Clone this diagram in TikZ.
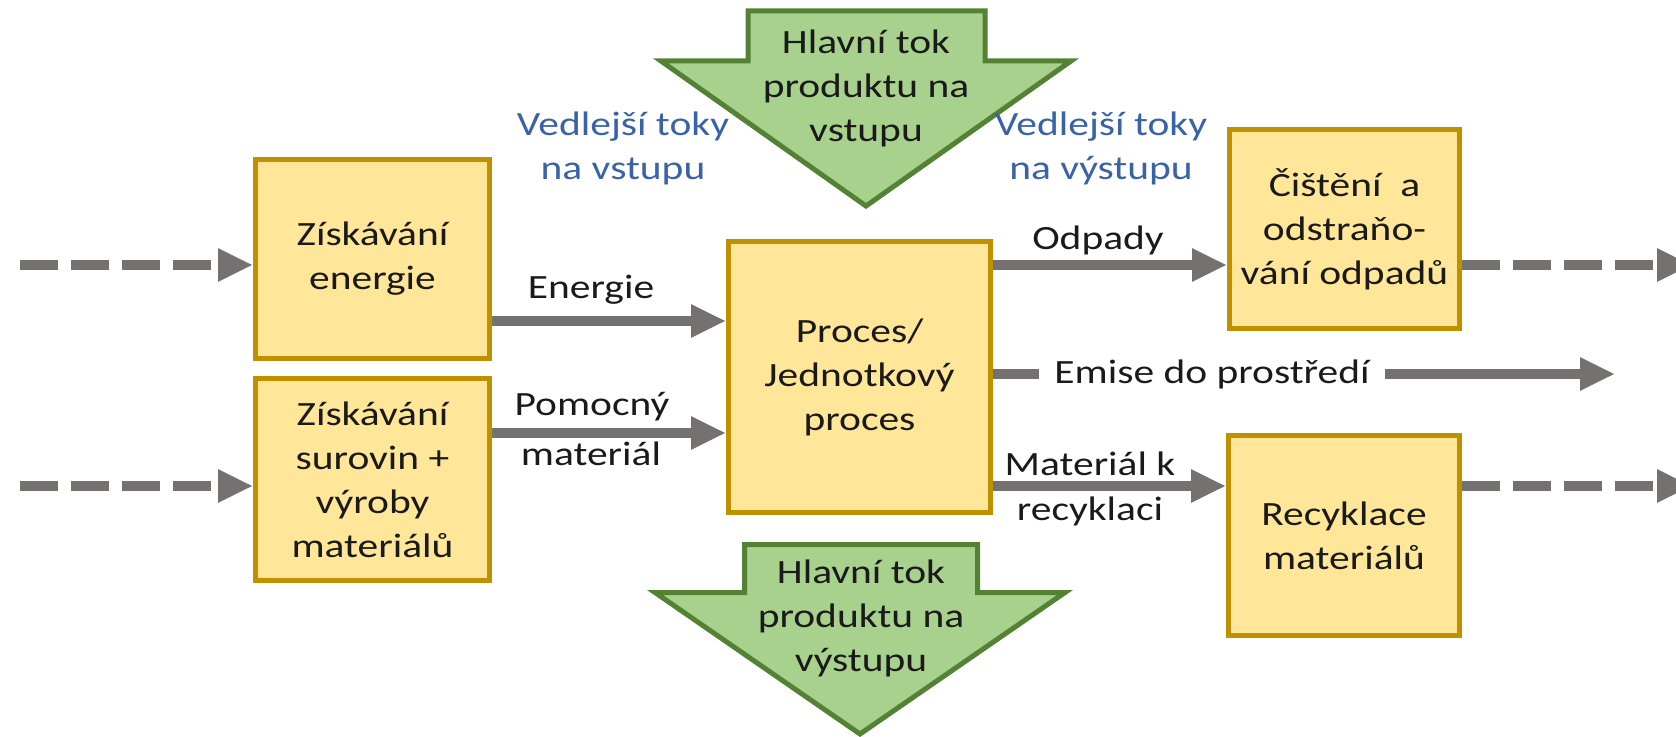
\documentclass[tikz,border=0pt]{standalone}
\usepackage{fontspec}
\setmainfont{Carlito}[FakeStretch=1.22]
\usetikzlibrary{arrows.meta}
\definecolor{boxfill}{HTML}{FFE699}
\definecolor{boxline}{HTML}{BF9000}
\definecolor{greenfill}{HTML}{A9D18E}
\definecolor{greenline}{HTML}{548235}
\definecolor{flowgrey}{HTML}{767171}
\definecolor{sideblue}{HTML}{3A62A7}
\definecolor{ink}{HTML}{1A1A1A}
\begin{document}
\begin{tikzpicture}[x=0.5pt,y=-0.5pt,
  font=\fontsize{17}{22}\selectfont, text=ink,
  stage/.style={draw=boxline, fill=boxfill, line width=2.5pt, align=center, inner sep=0pt},
  flow/.style={draw=flowgrey, line width=5pt, -{Triangle[length=17.5pt,width=15.5pt]}},
  flowline/.style={draw=flowgrey, line width=5pt},
  dashgap/.style={dash pattern=on 19pt off 6.5pt},
  mainflow/.style={draw=greenline, fill=greenfill, line width=2.5pt, line join=miter},
  lbl/.style={inner sep=0pt, align=center},
  side/.style={inner sep=0pt, align=center, text=sideblue}]
\path[use as bounding box, clip] (0,0) rectangle (1676,737);

% main product flows (input above, output below the process)
\draw[mainflow] (748,11) -- (985,11) -- (985,61) -- (1071,61) -- (866,206) -- (661,61) -- (748,61) -- cycle;
\node[lbl] (mainin) at (866,88) {Hlavní tok\\produktu na\\vstupu};
\draw[mainflow] (744.5,544.5) -- (977.5,544.5) -- (977.5,592.5) -- (1065,592.5) -- (860,734) -- (655,592.5) -- (744.5,592.5) -- cycle;
\node[lbl] (mainout) at (861,618) {Hlavní tok\\produktu na\\výstupu};

% side-flow headings
\node[side] (sidein) at (623,148) {Vedlejší toky\\na vstupu};
\node[side] (sideout) at (1101,148) {Vedlejší toky\\na výstupu};

% stages
\node[stage, minimum width=117pt, minimum height=99.5pt] (energy) at (372.5,259) {Získávání\\energie};
\node[stage, minimum width=117pt, minimum height=101pt] (raw) at (372.5,479.5) {Získávání\\surovin +\\výroby\\materiálů};
\node[stage, minimum width=131pt, minimum height=135.5pt] (proc) at (859.5,377) {Proces/\\Jednotkový\\proces};
\node[stage, minimum width=115pt, minimum height=99.5pt] (clean) at (1344.5,229) {Čištění~ a\\odstraňo-\\vání odpadů};
\node[stage, minimum width=115.5pt, minimum height=100pt] (recy) at (1344,535.5) {Recyklace\\materiálů};

% incoming upstream flows
\coordinate (upE) at (20,265);
\coordinate (upR) at (20,486);
\draw[flow, dashgap] (upE) -- (energy.west |- upE);
\draw[flow, dashgap] (upR) -- (raw.west |- upR);

% side inputs
\draw[flow] (energy.east |- 0,321) -- (proc.west |- 0,321);
\node[lbl] (lenergy) at (591,290) {Energie};
\draw[flow] (raw.east |- 0,433) -- (proc.west |- 0,433);
\node[lbl] (laux1) at (592,407) {Pomocný};
\node[lbl] (laux2) at (591,454) {materiál};

% side outputs
\draw[flow] (proc.east |- 0,265) -- (clean.west |- 0,265);
\node[lbl] (lwaste) at (1098,240) {Odpady};
\draw[flow] (proc.east |- 0,486) -- (recy.west |- 0,486);
\node[lbl] (lrec1) at (1090,464) {Materiál k};
\node[lbl] (lrec2) at (1090,511) {recyklaci};

% emissions
\node[inner sep=0pt, outer sep=0pt, minimum width=173pt] (emise) at (1212,374) {Emise do prostředí};
\coordinate (emiseEnd) at (1615,374);
\draw[flowline] (proc.east |- emise) -- (emise.west);
\draw[flow] (emise.east) -- (emiseEnd);

% downstream flows
\coordinate (downC) at (1692,265);
\coordinate (downR) at (1692,486);
\draw[flow, dashgap] (clean.east |- downC) -- (downC);
\draw[flow, dashgap] (recy.east |- downR) -- (downR);
\end{tikzpicture}
\end{document}
